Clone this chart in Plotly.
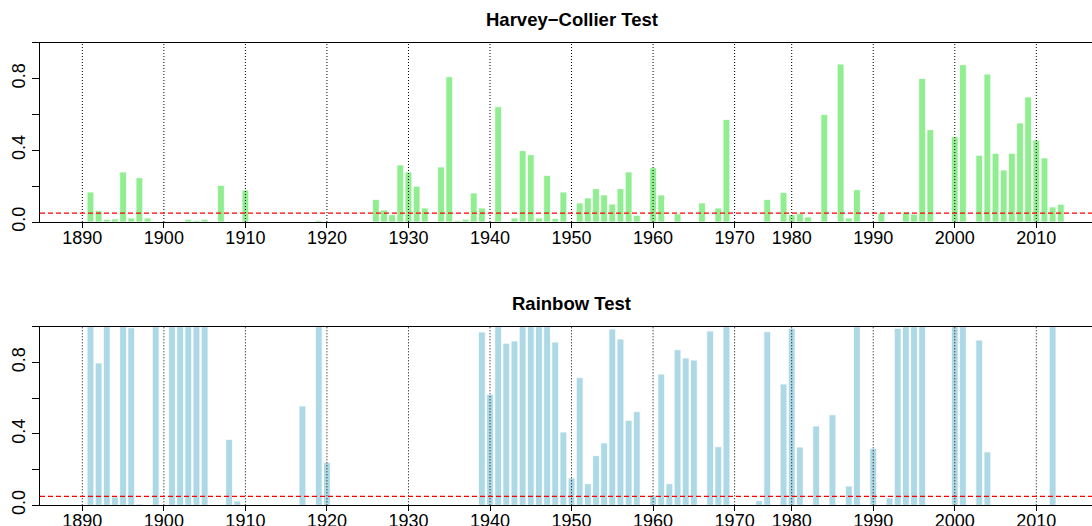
import plotly.graph_objects as go

# ---- data ----
years = (list(range(1890, 1971)) + [1974, 1975, 1976, 1977, 1978, 1979]
         + list(range(1980, 2014)))

harvey_collier = [
    # 1890-1899
    0.0, 0.167, 0.063, 0.015, 0.017, 0.279, 0.022, 0.247, 0.022, 0.0,
    # 1900-1909
    0.0, 0.0, 0.003, 0.015, 0.009, 0.015, 0.0, 0.204, 0.0, 0.0,
    # 1910-1919
    0.178, 0.0, 0.0, 0.0, 0.0, 0.0, 0.0, 0.0, 0.0, 0.009,
    # 1920-1929
    0.0, 0.0, 0.0, 0.0, 0.0, 0.0, 0.126, 0.067, 0.041, 0.318,
    # 1930-1939
    0.279, 0.200, 0.078, 0.0, 0.307, 0.810, 0.009, 0.015, 0.162, 0.078,
    # 1940-1949
    0.0, 0.643, 0.0, 0.022, 0.398, 0.375, 0.022, 0.260, 0.019, 0.167,
    # 1950-1959
    0.0, 0.106, 0.134, 0.186, 0.151, 0.100, 0.186, 0.279, 0.037, 0.0,
    # 1960-1969
    0.303, 0.151, 0.0, 0.046, 0.0, 0.0, 0.106, 0.0, 0.078, 0.572,
    # 1970, 1974-1979
    0.0, 0.0, 0.0, 0.0, 0.125, 0.0, 0.165,
    # 1980-1989
    0.041, 0.046, 0.028, 0.0, 0.599, 0.0, 0.881, 0.022, 0.180, 0.0,
    # 1990-1999
    0.0, 0.050, 0.0, 0.0, 0.056, 0.043, 0.801, 0.515, 0.0, 0.0,
    # 2000-2009
    0.476, 0.877, 0.0, 0.372, 0.825, 0.383, 0.290, 0.383, 0.552, 0.697,
    # 2010-2013
    0.457, 0.357, 0.084, 0.099,
]

rainbow = [
    # 1890-1899
    0.0, 1.0, 0.797, 1.0, 0.047, 1.0, 0.994, 0.007, 0.0, 1.0,
    # 1900-1909
    0.0, 1.0, 1.0, 1.0, 1.0, 1.0, 0.0, 0.0, 0.369, 0.024,
    # 1910-1919
    0.0, 0.0, 0.0, 0.0, 0.0, 0.0, 0.0, 0.556, 0.0, 1.0,
    # 1920-1929
    0.239, 0.0, 0.0, 0.0, 0.0, 0.0, 0.0, 0.0, 0.0, 0.0,
    # 1930-1939
    0.0, 0.0, 0.0, 0.0, 0.0, 0.0, 0.0, 0.0, 0.0, 0.970,
    # 1940-1949
    0.621, 1.0, 0.907, 0.920, 1.0, 1.0, 1.0, 1.0, 0.914, 0.410,
    # 1950-1959
    0.153, 0.715, 0.121, 0.278, 0.349, 0.987, 0.931, 0.476, 0.524, 0.0,
    # 1960-1969
    0.056, 0.735, 0.121, 0.871, 0.825, 0.813, 0.0, 0.976, 0.328, 1.0,
    # 1970, 1974-1979
    0.0, 0.0, 0.0, 0.026, 0.972, 0.0, 0.679,
    # 1980-1989
    0.991, 0.326, 0.0, 0.444, 0.0, 0.507, 0.0, 0.108, 1.0, 0.0,
    # 1990-1999
    0.319, 0.0, 0.041, 0.991, 1.0, 1.0, 1.0, 0.0, 0.0, 0.0,
    # 2000-2009
    1.0, 1.0, 0.0, 0.925, 0.299, 0.0, 0.0, 0.0, 0.0, 0.0,
    # 2010-2013
    0.0, 0.0, 1.0, 0.0,
]

tick_years = [1890, 1900, 1910, 1920, 1930, 1940, 1950, 1960, 1970,
              1980, 1990, 2000, 2010]
y_ticks = [0.0, 0.2, 0.4, 0.6, 0.8, 1.0]
y_tick_labels = ["0.0", "", "0.4", "", "0.8", ""]
sig_level = 0.05

titles = ["Harvey\u2212Collier Test", "Rainbow Test"]
colors = ["#90EE90", "#ADD8E6"]

# ---- figure ----
FONT = "Liberation Sans, Arial, Helvetica, sans-serif"
W, H = 1092, 526
pos = list(range(len(years)))
tick_pos = [years.index(y) for y in tick_years]

fig = go.Figure()
series = [harvey_collier, rainbow]
for i, vals in enumerate(series):
    sfx = "" if i == 0 else "2"
    fig.add_trace(go.Bar(
        x=pos, y=vals, xaxis="x" + sfx, yaxis="y" + sfx,
        marker=dict(color=colors[i], line=dict(color="white", width=0.8)),
        showlegend=False, hoverinfo="x+y",
    ))

axis_common_x = dict(
    range=[-5.19, 123.83], tickmode="array", tickvals=tick_pos,
    ticktext=[str(y) for y in tick_years], ticks="outside", ticklen=5,
    tickwidth=1, tickcolor="black", showline=True, linecolor="black",
    linewidth=1, mirror=True, showgrid=False, zeroline=False,
    ticklabelstandoff=-6,
    tickfont=dict(family=FONT, size=18, color="black"), automargin=False,
)
axis_common_y = dict(
    range=[0, 1], tickmode="array", tickvals=y_ticks, ticktext=y_tick_labels,
    tickangle=-90, ticks="outside", ticklen=7, tickwidth=1, tickcolor="black",
    showline=True, linecolor="black", linewidth=1, mirror=False,
    showgrid=False, zeroline=False,
    tickfont=dict(family=FONT, size=18, color="black"), automargin=False,
)

top_dom = [1 - 222.0 / H, 1 - 42.7 / H]
bot_dom = [1 - 505.3 / H, 1 - 326.7 / H]

fig.update_layout(
    width=W, height=H,
    margin=dict(l=40, r=0, t=0, b=0),
    paper_bgcolor="white", plot_bgcolor="white",
    bargap=0.167,
    xaxis=dict(domain=[0, 1], anchor="y", **axis_common_x),
    yaxis=dict(domain=top_dom, anchor="x", **axis_common_y),
    xaxis2=dict(domain=[0, 1], anchor="y2", **axis_common_x),
    yaxis2=dict(domain=bot_dom, anchor="x2", **axis_common_y),
)

shapes = []
for sfx in ["", "2"]:
    for tp in tick_pos:
        shapes.append(dict(
            type="line", xref="x" + sfx, yref="y" + sfx + " domain",
            x0=tp, x1=tp, y0=0, y1=1, layer="above",
            line=dict(color="black", width=1, dash="1px,2px"),
        ))
    shapes.append(dict(
        type="line", xref="x" + sfx + " domain", yref="y" + sfx,
        x0=0, x1=1, y0=sig_level, y1=sig_level, layer="above",
        line=dict(color="red", width=1.2, dash="5px,3px"),
    ))
fig.update_layout(shapes=shapes)

title_x = (571.5 - 40) / (W - 40)
for t, yc in zip(titles, [20.0, 303.5]):
    fig.add_annotation(
        text="<b>" + t + "</b>", xref="paper", yref="paper",
        x=title_x, y=1 - yc / H, xanchor="center", yanchor="middle",
        showarrow=False, font=dict(family=FONT, size=18.5, color="black"),
    )

fig.write_html(
    "out.html",
    config={"displayModeBar": False},
    post_script="document.body.style.margin='0px';"
                "document.body.style.overflow='hidden';",
)
